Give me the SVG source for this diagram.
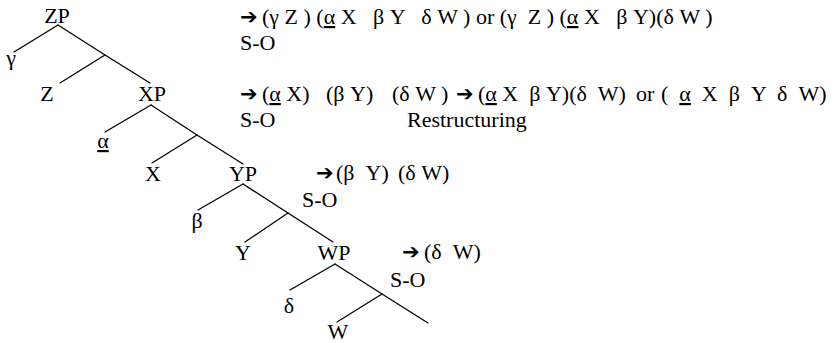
<svg xmlns="http://www.w3.org/2000/svg" width="835" height="343" viewBox="0 0 835 343">
<defs>
<style>
text{font-family:"Liberation Serif","Times New Roman","DejaVu Serif",serif;font-size:22px;fill:#000}
.lbl{text-anchor:middle}
.arr{font-family:"DejaVu Sans",sans-serif;font-size:21px}
.u{text-decoration:underline}
#connectors line{stroke:#000;stroke-width:1.3;stroke-linecap:round}
</style>
</defs>
<rect width="835" height="343" fill="#fff"/>
<g id="connectors">
<line x1="58" y1="25" x2="14" y2="52"/>
<line x1="58" y1="25" x2="105" y2="55"/>
<line x1="105" y1="55" x2="60" y2="83"/>
<line x1="105" y1="55" x2="150" y2="83"/>
<line x1="151" y1="105" x2="105" y2="132"/>
<line x1="151" y1="105" x2="197" y2="135"/>
<line x1="197" y1="135" x2="152" y2="163"/>
<line x1="197" y1="135" x2="243" y2="164"/>
<line x1="243" y1="184" x2="198" y2="210"/>
<line x1="243" y1="184" x2="288" y2="213"/>
<line x1="288" y1="213" x2="245" y2="242"/>
<line x1="288" y1="213" x2="333" y2="242"/>
<line x1="335" y1="264" x2="290" y2="290"/>
<line x1="335" y1="264" x2="382" y2="294"/>
<line x1="382" y1="294" x2="337" y2="322"/>
<line x1="382" y1="294" x2="428" y2="323"/>
</g>
<g id="ZP"><text class="lbl" x="57" y="23">ZP</text></g>
<g id="gamma"><text class="lbl" x="11" y="65">γ</text></g>
<g id="Z"><text class="lbl" x="47" y="101">Z</text></g>
<g id="XP"><text class="lbl" x="152" y="101">XP</text></g>
<g id="alpha"><text class="lbl u" x="103" y="148">α</text></g>
<g id="X"><text class="lbl" x="153" y="181">X</text></g>
<g id="YP"><text class="lbl" x="243" y="181">YP</text></g>
<g id="beta"><text class="lbl" x="197" y="228">β</text></g>
<g id="Y"><text class="lbl" x="243" y="260">Y</text></g>
<g id="WP"><text class="lbl" x="334" y="260">WP</text></g>
<g id="delta"><text class="lbl" x="289" y="313">δ</text></g>
<g id="W"><text class="lbl" x="338" y="339">W</text></g>
<g id="annotations">
<text x="240" y="24" xml:space="preserve"><tspan class="arr">➔</tspan><tspan x="262">(γ Z ) (</tspan><tspan class="u">α</tspan><tspan> X   β Y   δ W ) or (γ  Z ) (</tspan><tspan class="u">α</tspan><tspan> X   β Y)(δ W )</tspan></text>
<text x="240" y="50">S-O</text>
<text x="240" y="101" xml:space="preserve"><tspan class="arr">➔</tspan><tspan x="262">(</tspan><tspan class="u">α</tspan><tspan> X)</tspan><tspan x="326">(β Y)</tspan><tspan x="392">(δ W )</tspan><tspan x="456" class="arr">➔</tspan><tspan x="478">(</tspan><tspan class="u">α</tspan><tspan> X  β Y)(δ  W)</tspan><tspan x="636">or</tspan><tspan x="661">(  </tspan><tspan class="u">α</tspan><tspan>  X  β  Y  δ  W)</tspan></text>
<text x="240" y="127">S-O</text>
<text x="407" y="127">Restructuring</text>
<text x="316" y="180" xml:space="preserve"><tspan class="arr">➔</tspan><tspan x="336">(β  Y)</tspan><tspan x="398">(δ W)</tspan></text>
<text x="302" y="207">S-O</text>
<text x="402" y="259" xml:space="preserve"><tspan class="arr">➔</tspan><tspan x="424">(δ  W)</tspan></text>
<text x="390" y="287">S-O</text>
</g>
</svg>
